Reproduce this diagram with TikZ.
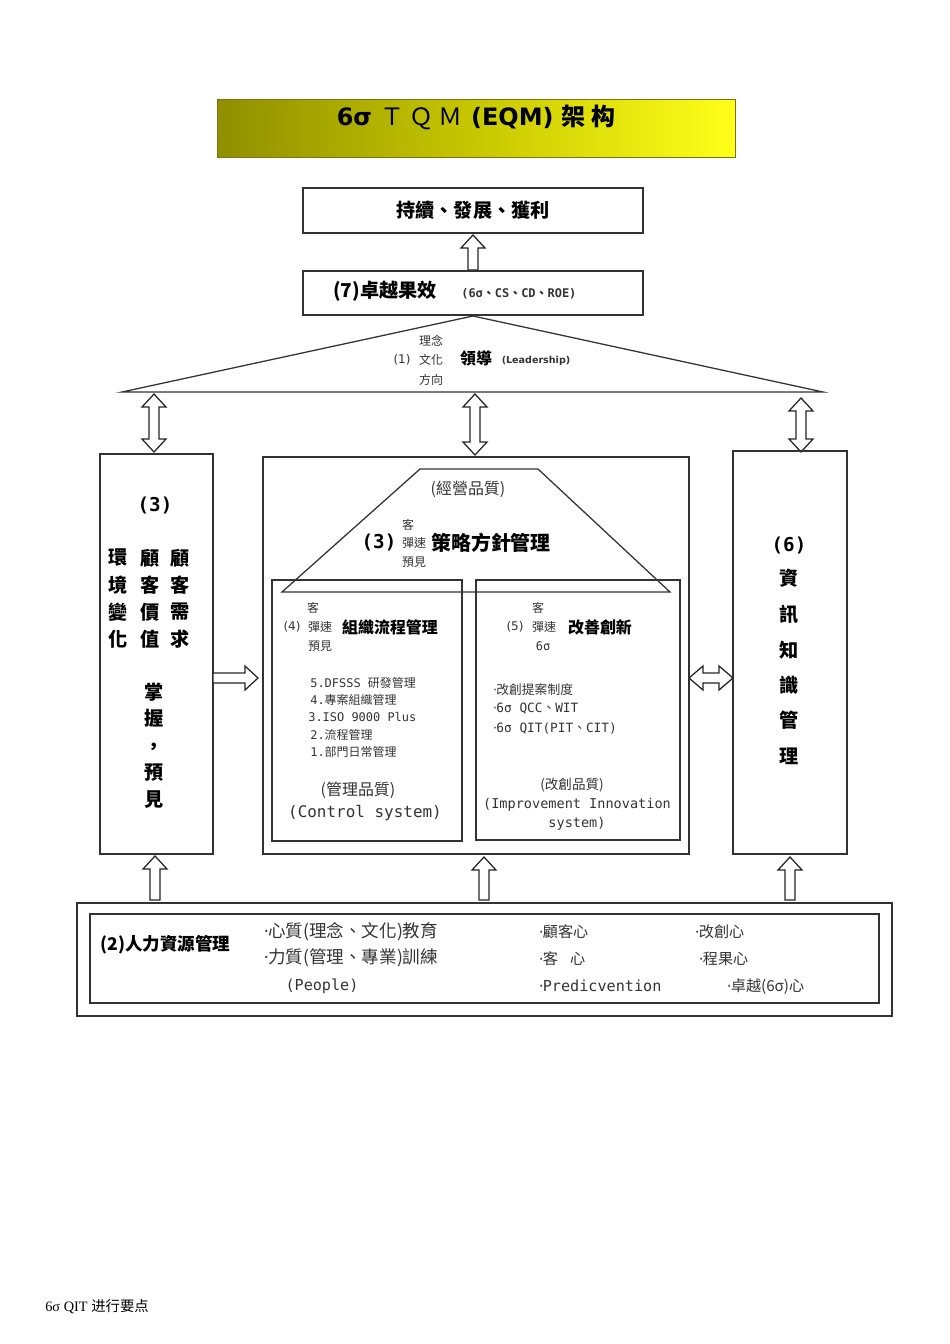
\documentclass[tikz,border=0pt]{standalone}
\usepackage{fontspec}
\setmainfont{Liberation Serif}
\newfontfamily\cjk{Noto Sans CJK TC}
\newfontfamily\mono{DejaVu Sans Mono}
\newfontfamily\sans{DejaVu Sans}
\newfontfamily\serifcjk{Noto Sans CJK SC}
\newcommand\md{{\sans\kern-0.1em·\kern-0.05em}}
\begin{document}
\begin{tikzpicture}[x=0.627pt,y=-0.627pt,
  box/.style={draw=black!80,line width=0.8pt},
  harr/.style={draw=black!85,fill=white,line width=0.8pt},
  t/.style={inner sep=0pt,font=\cjk\fontsize{9}{11}\selectfont,text=black!80},
  tb/.style={inner sep=0pt,font=\cjk\bfseries\fontsize{12}{14}\selectfont}]
\useasboundingbox (0,0) rectangle (950,1344);
\newcommand\myup[3]{\draw[harr] (#1-5,#3)--(#1-5,#2+13)--(#1-12,#2+13)--(#1,#2)--(#1+12,#2+13)--(#1+5,#2+13)--(#1+5,#3)--cycle;}
\newcommand\myud[3]{\draw[harr] (#1-5,#3-13)--(#1-5,#2+13)--(#1-12,#2+13)--(#1,#2)--(#1+12,#2+13)--(#1+5,#2+13)--(#1+5,#3-13)--(#1+12,#3-13)--(#1,#3)--(#1-12,#3-13)--cycle;}
% title
\shade[left color=olive!75!yellow!90!black,right color=yellow!90!white] (217,99) rectangle (735,157);
\draw[olive!80!black] (217,99) rectangle (735,157);
\node[inner sep=0pt] (title) at (476,117) {\sans\bfseries\fontsize{15}{17}\selectfont 6σ {\serifcjk\mdseries Ｔ Ｑ Ｍ} (EQM) {\cjk 架 构}};
% top boxes
\node[box,minimum width=340*0.627pt,minimum height=45*0.627pt] (b1) at (473,210.5) {};
\node[tb] at (b1) {持續、發展、獲利};
\node[box,minimum width=340*0.627pt,minimum height=44*0.627pt] (b7) at (473,293) {};
\node[tb,anchor=west] at (333,291) {(7)卓越果效};
\node[t,anchor=west,font=\mono\bfseries\fontsize{7.5}{9}\selectfont] at (461,294) {(6σ{\cjk 、}CS{\cjk 、}CD{\cjk 、}ROE)};
\myup{473}{235}{270}
% leadership triangle
\draw[box] (473,316)--(823,392)--(122,392)--cycle;
\node[t,font=\cjk\fontsize{7.5}{9}\selectfont] at (431,341) {理念};
\node[t,font=\cjk\fontsize{7.5}{9}\selectfont] at (431,360) {文化};
\node[t,font=\cjk\fontsize{7.5}{9}\selectfont] at (431,380) {方向};
\node[t,font=\sans\fontsize{7.5}{9}\selectfont] at (402,360) {(1)};
\node[tb,font=\cjk\bfseries\fontsize{10}{12}\selectfont] at (476,358) {領導};
\node[t,font=\sans\bfseries\fontsize{6}{8}\selectfont] at (536,361) {(Leadership)};
\myud{154}{394}{452}
\myud{475}{394}{455}
\myud{801}{398}{452}
% left box
\draw[box] (100,454) rectangle (213,854);
\node[tb,font=\mono\bfseries\fontsize{12}{14}\selectfont] at (155,505) {(3)};
\foreach \c/\x in {{環,境,變,化}/118,{顧,客,價,值}/150,{顧,客,需,求}/180}{
  \foreach \ch [count=\i] in \c {\node[tb] at (\x,531+\i*27) {\ch};}}
\foreach \ch/\y in {掌/692,握/718,，/748,預/773,見/800}{\node[tb] at (154,\y) {\ch};}
% right box
\draw[box] (733,451) rectangle (847,854);
\node[tb,font=\mono\bfseries\fontsize{12}{14}\selectfont] at (789,545) {(6)};
\foreach \ch/\y in {資/578,訊/614,知/650,識/685,管/720,理/756}{\node[tb] at (789,\y) {\ch};}
% center
\draw[box] (263,457) rectangle (689,854);
\draw[box] (272,580) rectangle (462,841);
\draw[box] (476,580) rectangle (680,840);
\draw[box] (420,469)--(538,469)--(670,592)--(282,592)--cycle;
\node[t,font=\cjk\fontsize{10}{12}\selectfont] at (468,489) {(經營品質)};
\node[tb,font=\mono\bfseries\fontsize{12}{14}\selectfont] at (379,542) {(3)};
\node[t,font=\cjk\fontsize{7.5}{9}\selectfont] at (408,525) {客};
\node[t,font=\cjk\fontsize{7.5}{9}\selectfont] at (414,543) {彈速};
\node[t,font=\cjk\fontsize{7.5}{9}\selectfont] at (414,562) {預見};
\node[tb,font=\cjk\bfseries\fontsize{12.5}{14}\selectfont] at (491,543) {策略方針管理};
% box 4
\node[t,font=\cjk\fontsize{7.5}{9}\selectfont] at (313,608) {客};
\node[t,font=\sans\fontsize{7.5}{9}\selectfont] at (292,627) {(4)};
\node[t,font=\cjk\fontsize{7.5}{9}\selectfont] at (320,627) {彈速};
\node[t,font=\cjk\fontsize{7.5}{9}\selectfont] at (320,646) {預見};
\node[tb,font=\cjk\bfseries\fontsize{10}{12}\selectfont] at (390,627) {組織流程管理};
\begin{scope}[every node/.style={t,anchor=west,font=\mono\fontsize{7.5}{9}\selectfont}]
\node at (310,683) {5.DFSSS {\cjk 研發管理}};
\node at (310,700) {4.{\cjk 專案組織管理}};
\node at (308,717) {3.ISO 9000 Plus};
\node at (310,735) {2.{\cjk 流程管理}};
\node at (310,752) {1.{\cjk 部門日常管理}};
\end{scope}
\node[t,font=\cjk\fontsize{10}{12}\selectfont] at (358,790) {(管理品質)};
\node[t,font=\mono\fontsize{10}{12}\selectfont] at (365,813) {(Control system)};
% box 5
\node[t,font=\cjk\fontsize{7.5}{9}\selectfont] at (538,608) {客};
\node[t,font=\sans\fontsize{7.5}{9}\selectfont] at (515,627) {(5)};
\node[t,font=\cjk\fontsize{7.5}{9}\selectfont] at (544,627) {彈速};
\node[t,font=\mono\fontsize{7.5}{9}\selectfont] at (543,646) {6σ};
\node[tb,font=\cjk\bfseries\fontsize{10}{12}\selectfont] at (600,627) {改善創新};
\begin{scope}[every node/.style={t,anchor=west,font=\mono\fontsize{8}{10}\selectfont}]
\node at (494,690) {\md{\cjk 改創提案制度}};
\node at (494,709) {\md 6σ QCC{\cjk 、}WIT};
\node at (494,728) {\md 6σ QIT(PIT{\cjk 、}CIT)};
\end{scope}
\node[t,font=\cjk\fontsize{8.5}{10}\selectfont] at (572,785) {(改創品質)};
\node[t,font=\mono\fontsize{8.5}{10}\selectfont] at (577,805) {(Improvement Innovation};
\node[t,font=\mono\fontsize{8.5}{10}\selectfont] at (577,824) {system)};
% side arrows
\draw[harr] (213,673)--(245,673)--(245,666)--(258,678)--(245,690)--(245,683)--(213,683)--cycle;
\draw[harr] (703,673)--(719,673)--(719,666)--(733,678)--(719,690)--(719,683)--(703,683)--(703,690)--(689,678)--(703,666)--cycle;
% up arrows
\myup{155}{856}{900}
\myup{484}{857}{900}
\myup{790}{857}{900}
% bottom
\draw[box] (77,903) rectangle (892,1016);
\draw[box] (90,914) rectangle (879,1003);
\node[tb,anchor=west,font=\cjk\bfseries\fontsize{11}{13}\selectfont] at (100,945) {(2)人力資源管理};
\begin{scope}[every node/.style={t,anchor=west,font=\cjk\fontsize{11}{13}\selectfont}]
\node at (265,932) {\md 心質(理念、文化)教育};
\node at (265,958) {\md 力質(管理、專業)訓練};
\end{scope}
\node[t,font=\mono\fontsize{9.5}{11}\selectfont] at (322,986) {(People)};
\begin{scope}[every node/.style={t,anchor=west,font=\cjk\fontsize{9.5}{11}\selectfont}]
\node at (540,932) {\md 顧客心};
\node at (540,959) {\md 客\hspace{0.8em}心};
\node at (696,932) {\md 改創心};
\node at (700,959) {\md 程果心};
\node at (728,987) {\md 卓越(6σ)心};
\end{scope}
\node[t,anchor=west,font=\mono\fontsize{9.5}{11}\selectfont] at (540,986) {\md Predicvention};
\node[anchor=west,inner sep=0pt,font=\fontsize{9}{11}\selectfont] at (45,1307) {6σ QIT {\serifcjk 进行要点}};
\end{tikzpicture}
\end{document}
